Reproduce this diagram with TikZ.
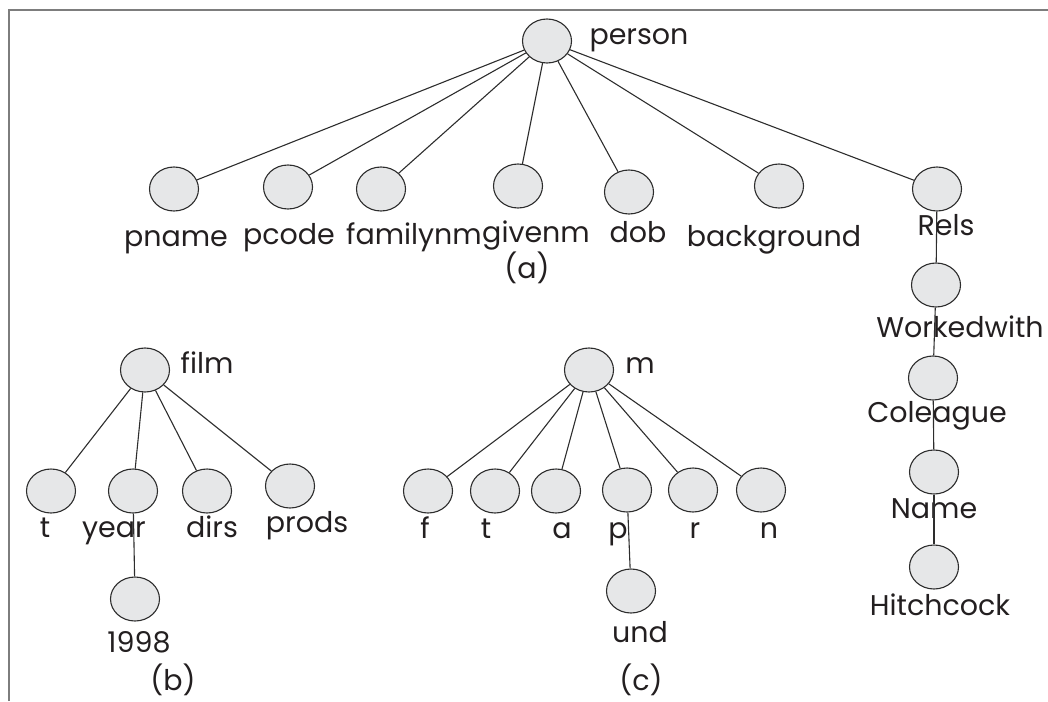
\documentclass[tikz,border=0pt]{standalone}
\usepackage{fontspec}
\setmainfont{Poppins}
\usepackage{xcolor}
\definecolor{nodefill}{RGB}{230,231,232}
\definecolor{nodeline}{RGB}{45,45,45}
\definecolor{framegray}{RGB}{125,125,125}
\definecolor{inkgray}{RGB}{35,31,32}
\usetikzlibrary{positioning, shapes.geometric}
\tikzstyle{Leaf} = [
ellipse,
draw=nodeline,
fill=nodefill,
line width=1.1pt,
minimum width=49pt,
minimum height=44pt,
inner sep=0pt]
\tikzstyle{Label} = [
anchor=base,
inner sep=0pt,
text=inkgray,
font=\fontsize{28.5}{34}\selectfont]
\tikzstyle{Edge} = [
line width=1.1pt,
nodeline]

\begin{document}
\begin{tikzpicture}[x=1pt, y=-1pt]
    \useasboundingbox (0,0) rectangle (1048,701);
    \draw[framegray, line width=2.5pt] (9,701) -- (9,10) -- (1048,10);

    % (a) person
    \node [Leaf] (person) at (547,41) {};
    \node [Leaf] (pname) at (174,189) {};
    \node [Leaf] (pcode) at (288,187) {};
    \node [Leaf] (familynm) at (381,189) {};
    \node [Leaf] (givenm) at (518,186) {};
    \node [Leaf] (dob) at (629,192) {};
    \node [Leaf] (background) at (779,186) {};
    \node [Leaf] (rels) at (937,189) {};
    \node [Leaf] (workedwith) at (936,285) {};
    \node [Leaf] (coleague) at (933,378) {};
    \node [Leaf] (name) at (934,472) {};
    \node [Leaf] (hitchcock) at (934,567) {};

    \node [Label] (personL) at (639,45) {person};
    \node [Label] (pnameL) at (176,246) {pname};
    \node [Label] (pcodeL) at (289,244) {pcode};
    \node [Label] (familynmL) at (414,244) {familynm};
    \node [Label] (givenmL) at (536,242) {givenm};
    \node [Label] (dobL) at (638,242) {dob};
    \node [Label] (backgroundL) at (774,246) {background};
    \node [Label] (relsL) at (946,235) {Rels};
    \node [Label] (workedwithL) at (960,337) {Workedwith};
    \node [Label] (coleagueL) at (937,422) {Coleague};
    \node [Label] (nameL) at (934,518) {Name};
    \node [Label] (hitchcockL) at (940,615) {Hitchcock};
    \node [Label] (capA) at (527,278) {(a)};

    \foreach \c in {pname, pcode, familynm, givenm, dob, background, rels}
        \draw[Edge] (person) -- (\c);
    \draw[Edge] (rels) -- (workedwith);
    \draw[Edge] (workedwith) -- (coleague);
    \draw[Edge] (coleague) -- (name);
    \draw[Edge] (name) -- (hitchcock);

    % (b) film
    \node [Leaf] (film) at (145,370) {};
    \node [Leaf] (ft) at (51,491) {};
    \node [Leaf] (year) at (133,491) {};
    \node [Leaf] (dirs) at (207,491) {};
    \node [Leaf] (prods) at (290,486) {};
    \node [Leaf] (y1998) at (135,599) {};

    \node [Label] (filmL) at (207,373) {film};
    \node [Label] (ftL) at (45,537) {t};
    \node [Label] (yearL) at (114,537) {year};
    \node [Label] (dirsL) at (212,537) {dirs};
    \node [Label] (prodsL) at (307,532) {prods};
    \node [Label] (y1998L) at (139,652) {1998};
    \node [Label] (capB) at (173,690) {(b)};

    \foreach \c in {ft, year, dirs, prods}
        \draw[Edge] (film) -- (\c);
    \draw[Edge] (year) -- (y1998);

    % (c) m
    \node [Leaf] (m) at (589,370) {};
    \node [Leaf] (mf) at (428,491) {};
    \node [Leaf] (mt) at (495,491) {};
    \node [Leaf] (ma) at (556,491) {};
    \node [Leaf] (mp) at (627,490) {};
    \node [Leaf] (mr) at (693,490) {};
    \node [Leaf] (mn) at (761,490) {};
    \node [Leaf] (und) at (631,591) {};

    \node [Label] (mL) at (640,373) {m};
    \node [Label] (mfL) at (425,538) {f};
    \node [Label] (mtL) at (486,538) {t};
    \node [Label] (maL) at (562,538) {a};
    \node [Label] (mpL) at (618,538) {p};
    \node [Label] (mrL) at (695,538) {r};
    \node [Label] (mnL) at (769,538) {n};
    \node [Label] (undL) at (640,642) {und};
    \node [Label] (capC) at (641,690) {(c)};

    \foreach \c in {mf, mt, ma, mp, mr, mn}
        \draw[Edge] (m) -- (\c);
    \draw[Edge] (mp) -- (und);
\end{tikzpicture}
\end{document}
